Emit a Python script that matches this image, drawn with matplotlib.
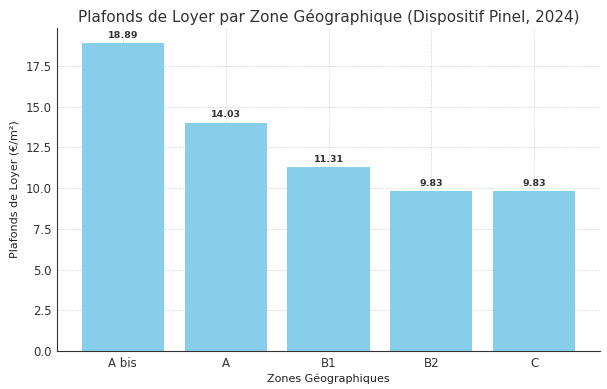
import matplotlib
matplotlib.use("Agg")
import matplotlib.pyplot as plt

zones = ["A bis", "A", "B1", "B2", "C"]
plafonds = [18.89, 14.03, 11.31, 9.83, 9.83]

fig = plt.figure(figsize=(6.07, 3.89), dpi=100)
ax = fig.add_axes([57/607, 1-351/389, (600-57)/607, (351-28)/389])
bars = ax.bar(zones, plafonds, color="skyblue", width=0.8, zorder=2)
ax.set_ylim(0, max(plafonds) * 1.05)
ax.grid(True, linestyle="--", linewidth=0.5, color="#cccccc", alpha=0.8, zorder=0)
ax.set_axisbelow(True)
for s in ["top", "right"]:
    ax.spines[s].set_visible(False)
ax.spines["left"].set_color("#333333")
ax.spines["bottom"].set_color("#333333")
ax.tick_params(colors="#333333", labelsize=8.5, length=0, pad=4)
for b, v in zip(bars, plafonds):
    ax.text(b.get_x() + b.get_width()/2, v + 0.2, f"{v:.2f}", ha="center", va="bottom",
            fontsize=6.8, fontweight="bold", color="#333333")
ax.set_title("Plafonds de Loyer par Zone Géographique (Dispositif Pinel, 2024)", fontsize=11, color="#333333", pad=4)
ax.set_xlabel("Zones Géographiques", fontsize=8, color="#222222", labelpad=3)
ax.set_ylabel("Plafonds de Loyer (€/m²)", fontsize=8, color="#222222", labelpad=4)
fig.savefig("out.png", dpi=100)
